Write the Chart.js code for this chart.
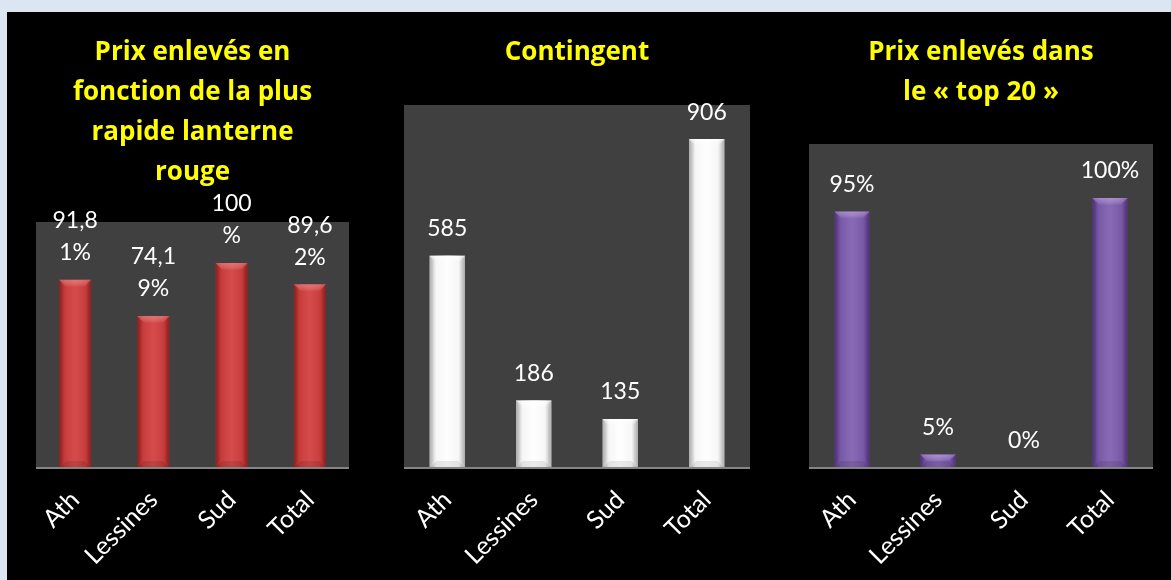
<!DOCTYPE html>
<html><head><meta charset="utf-8">
<script src="https://cdn.jsdelivr.net/npm/chart.js@4.4.1/dist/chart.umd.min.js"></script>
<style>
html,body{margin:0;padding:0;width:1171px;height:580px;overflow:hidden;background:#dce6f2;}
#panel{position:absolute;left:7px;top:12px;width:1164px;height:568px;background:#000;}
.box{position:absolute;top:12px;height:568px;}
.box canvas{display:block;}
</style></head><body>
<div id="panel"></div>
<div class="box" style="left:7px;width:371px"><canvas id="c1" width="371" height="568"></canvas></div>
<div class="box" style="left:378px;width:398px"><canvas id="c2" width="398" height="568"></canvas></div>
<div class="box" style="left:783px;width:396px"><canvas id="c3" width="396" height="568"></canvas></div>
<script>
// ---- data ----
const categories = ['Ath', 'Lessines', 'Sud', 'Total'];
const title1 = ['Prix enlevés en', 'fonction de la plus', 'rapide lanterne', 'rouge'];
const title2 = ['Contingent'];
const title3 = ['Prix enlevés dans', 'le « top 20 »'];
const prixLanterne = [91.81, 74.19, 100, 89.62];   // %
const contingent = [585, 186, 135, 906];
const prixTop20 = [95, 5, 0, 100];                 // %
const max1 = 120, max2 = 1000, max3 = 120;

const FONT = 'Lato, "Open Sans", sans-serif';
const TFONT = '"Open Sans", Lato, sans-serif';

function fmtPctFr(v){ return (Number.isInteger(v) ? String(v) : v.toFixed(2).replace('.', ',')) + '%'; }
function fmtInt(v){ return String(v); }
function fmtPct(v){ return v + '%'; }

const labelCfg = {};

function wrapText(ctx, text, maxW){
  const lines = []; let cur = '';
  for (const ch of text){
    if (cur && ctx.measureText(cur + ch).width > maxW){ lines.push(cur); cur = ch; }
    else cur += ch;
  }
  if (cur) lines.push(cur);
  return lines;
}

const plotBg = {
  id: 'plotBg',
  beforeDraw(chart){
    const {ctx, chartArea: a} = chart;
    ctx.save();
    ctx.fillStyle = '#404040';
    ctx.fillRect(a.left, a.top, a.right - a.left, a.bottom - a.top);
    ctx.restore();
  },
  afterDatasetsDraw(chart){
    const {ctx, chartArea: a} = chart;
    const cfg = labelCfg[chart.canvas.id];
    const st = cfg.style;
    const meta = chart.getDatasetMeta(0);
    ctx.save();
    meta.data.forEach(el => {
      const p = el.getProps(['x','y','base','width'], true);
      const l = p.x - p.width/2, r = p.x + p.width/2;
      const t = Math.min(p.y, p.base), b = Math.max(p.y, p.base);
      const h = b - t;
      if (h < 0.5) return;
      const g = ctx.createLinearGradient(l, 0, r, 0);
      g.addColorStop(0, st.edge); g.addColorStop(0.18, st.soft); g.addColorStop(0.5, st.mid);
      g.addColorStop(0.82, st.soft); g.addColorStop(1, st.edge);
      ctx.fillStyle = g; ctx.fillRect(l, t, p.width, h);
      const bv = Math.min(7, h/2);
      const tg = ctx.createLinearGradient(0, t, 0, t + bv);
      tg.addColorStop(0, st.top); tg.addColorStop(1, 'rgba(255,255,255,0.02)');
      ctx.fillStyle = tg;
      ctx.beginPath(); ctx.moveTo(l,t); ctx.lineTo(r,t); ctx.lineTo(r-bv,t+bv); ctx.lineTo(l+bv,t+bv); ctx.closePath(); ctx.fill();
      ctx.fillStyle = st.side;
      ctx.beginPath(); ctx.moveTo(l,t); ctx.lineTo(l+bv*0.5,t+bv); ctx.lineTo(l+bv*0.5,b-bv); ctx.lineTo(l,b); ctx.closePath(); ctx.fill();
      ctx.beginPath(); ctx.moveTo(r,t); ctx.lineTo(r-bv*0.5,t+bv); ctx.lineTo(r-bv*0.5,b-bv); ctx.lineTo(r,b); ctx.closePath(); ctx.fill();
      ctx.fillStyle = st.bottom;
      ctx.beginPath(); ctx.moveTo(l,b); ctx.lineTo(l+bv,b-bv); ctx.lineTo(r-bv,b-bv); ctx.lineTo(r,b); ctx.closePath(); ctx.fill();
    });
    // axis line
    ctx.strokeStyle = '#858585'; ctx.lineWidth = 2;
    ctx.beginPath(); ctx.moveTo(a.left, a.bottom); ctx.lineTo(a.right, a.bottom); ctx.stroke();
    // data labels
    ctx.fillStyle = '#ffffff';
    ctx.font = '23px ' + FONT;
    ctx.textAlign = 'center'; ctx.textBaseline = 'middle';
    const data = chart.data.datasets[0].data;
    meta.data.forEach((el, i) => {
      const p = el.getProps(['x','y'], true);
      const lines = wrapText(ctx, cfg.format(data[i]), cfg.maxWidth);
      const n = lines.length;
      lines.forEach((s, k) => ctx.fillText(s, p.x, p.y - 27 - (n-1-k)*32));
    });
    ctx.restore();
  }
};

function makeChart(id, values, title, titlePadBottom, yMax, color, style, fmt, maxW, side){
  labelCfg[id] = { format: fmt, maxWidth: maxW, style: style };
  return new Chart(document.getElementById(id), {
    type: 'bar',
    data: { labels: categories, datasets: [{ data: values, backgroundColor: color, borderWidth: 0,
            barPercentage: 0.41, categoryPercentage: 1 }] },
    options: {
      responsive: false, animation: false, devicePixelRatio: 1,
      layout: { padding: { left: side, right: side, top: 0, bottom: 0 } },
      plugins: {
        legend: { display: false }, tooltip: { enabled: false },
        title: { display: true, text: title, color: '#ffff00',
                 font: { family: TFONT, size: 26, weight: 'bold', lineHeight: 40/26 },
                 padding: { top: 21, bottom: titlePadBottom } }
      },
      scales: {
        y: { display: false, min: 0, max: yMax },
        x: { grid: { display: false, drawTicks: false }, border: { display: false },
             ticks: { color: '#ffffff', font: { family: FONT, size: 25 }, minRotation: 45, maxRotation: 45, padding: 17 },
             afterFit(s){ s.height = 112; } }
      }
    },
    plugins: [plotBg]
  });
}

const redStyle = { edge: 'rgba(70,0,0,0.45)', soft: 'rgba(70,0,0,0.08)', mid: 'rgba(255,255,255,0.06)', top: 'rgba(255,170,170,0.40)', side: 'rgba(0,0,0,0.05)', bottom: 'rgba(0,0,0,0.10)' };
const whiteStyle = { edge: 'rgba(0,0,0,0.25)', soft: 'rgba(255,255,255,0.3)', mid: 'rgba(255,255,255,0.95)', top: 'rgba(255,255,255,0.7)', side: 'rgba(0,0,0,0.03)', bottom: 'rgba(0,0,0,0.08)' };
const purpleStyle = { edge: 'rgba(30,0,60,0.45)', soft: 'rgba(30,0,60,0.08)', mid: 'rgba(255,255,255,0.06)', top: 'rgba(225,195,255,0.40)', side: 'rgba(0,0,0,0.05)', bottom: 'rgba(0,0,0,0.10)' };

makeChart('c1', prixLanterne, title1, 29, max1, '#d24040', redStyle, fmtPctFr, 52, 29);
makeChart('c2', contingent, title2, 32, max2, '#f2f2f2', whiteStyle, fmtInt, 100, 26);
makeChart('c3', prixTop20, title3, 31, max3, '#8060b0', purpleStyle, fmtPct, 100, 26);
</script>
</body></html>
